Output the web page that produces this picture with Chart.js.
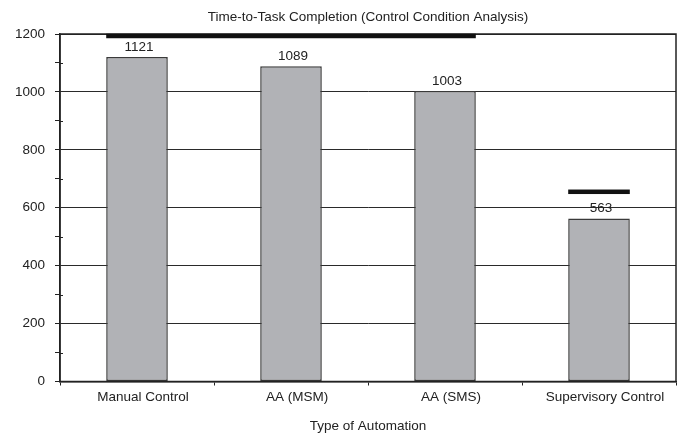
<!DOCTYPE html>
<html>
<head>
<meta charset="utf-8">
<script src="https://cdn.jsdelivr.net/npm/chart.js@4.4.1/dist/chart.umd.min.js"></script>
<style>
  html, body { margin: 0; padding: 0; background: #fff; }
  #wrap { width: 682px; height: 433px; }
</style>
</head>
<body>
<div id="wrap"><canvas id="chart"></canvas></div>
<script>
// Data
const categories = ['Manual Control', 'AA (MSM)', 'AA (SMS)', 'Supervisory Control'];
const completionTimes = [1121, 1089, 1003, 563];

// Homogeneous-subset bars drawn above the columns (category index range + level)
const groupStart = [0, 3];
const groupEnd = [2, 3];
const groupLevel = [1194, 656];

const chartTitle = 'Time-to-Task Completion (Control Condition Analysis)';
const xTitle = 'Type of Automation';

const FONT = "'Liberation Sans', Arial, sans-serif";
const INK = '#222';

// Draws the box frame, the value labels, the group bars and the title
const overlayPlugin = {
    id: 'overlay',
    afterDatasetsDraw(chart) {
        const { ctx, chartArea: a, scales } = chart;
        const bars = chart.getDatasetMeta(0).data;
        ctx.save();

        // frame around plot
        ctx.strokeStyle = INK;
        ctx.lineWidth = 1.5;
        ctx.strokeRect(a.left, a.top, a.right - a.left, a.bottom - a.top);

        // minor y ticks also poke into the plot
        ctx.lineWidth = 1;
        scales.y.ticks.forEach((t) => {
            if (t.value % 200 !== 0) {
                const y = Math.round(scales.y.getPixelForValue(t.value)) + 0.5;
                ctx.beginPath();
                ctx.moveTo(a.left, y);
                ctx.lineTo(a.left + 3, y);
                ctx.stroke();
            }
        });

        // value labels
        ctx.fillStyle = INK;
        ctx.font = '13.5px ' + FONT;
        ctx.textAlign = 'center';
        ctx.textBaseline = 'alphabetic';
        bars.forEach((b, i) => {
            ctx.fillText(String(completionTimes[i]), b.x + 2, b.y - 6);
        });

        // group bars
        ctx.fillStyle = '#111';
        groupStart.forEach((s, i) => {
            const first = bars[s];
            const last = bars[groupEnd[i]];
            const x0 = first.x - first.width / 2;
            const x1 = last.x + last.width / 2;
            const y = scales.y.getPixelForValue(groupLevel[i]);
            ctx.fillRect(x0, y - 2, x1 - x0, 4.5);
        });

        // title centred over plot area
        ctx.fillStyle = INK;
        ctx.font = '13.5px ' + FONT;
        ctx.textBaseline = 'middle';
        ctx.fillText(chartTitle, (a.left + a.right) / 2, 17);
        ctx.restore();
    }
};

new Chart(document.getElementById('chart'), {
    type: 'bar',
    data: {
        labels: categories,
        datasets: [{
            data: completionTimes,
            backgroundColor: '#b1b2b6',
            borderColor: '#3a3a3a',
            borderWidth: 1.5,
            borderSkipped: false,
            categoryPercentage: 1,
            barPercentage: 0.4
        }]
    },
    options: {
        responsive: true,
        maintainAspectRatio: false,
        animation: false,
        layout: { padding: { top: 34, right: 6, left: 0, bottom: 0 } },
        plugins: {
            legend: { display: false },
            tooltip: { enabled: false },
            title: { display: false }
        },
        scales: {
            x: {
                grid: { drawOnChartArea: false, tickLength: 4, color: INK, offset: true },
                border: { color: INK, width: 1.5 },
                ticks: {
                    color: INK,
                    font: { family: FONT, size: 13.5 },
                    padding: 4,
                    maxRotation: 0,
                    labelOffset: 6
                },
                title: {
                    display: true,
                    text: xTitle,
                    color: INK,
                    font: { family: FONT, size: 13.5, lineHeight: 1 },
                    padding: { top: 0, bottom: 0 }
                },
                afterFit(scale) { scale.height = 433 - 381.5; }
            },
            y: {
                min: 0,
                max: 1200,
                ticks: {
                    stepSize: 100,
                    color: INK,
                    font: { family: FONT, size: 13.5 },
                    padding: 10,
                    callback: (v) => (v % 200 === 0 ? v : '')
                },
                grid: {
                    tickLength: 5,
                    lineWidth: 1,
                    color: (c) => (c.tick && c.tick.value % 200 === 0 ? '#2a2a2a' : 'rgba(0,0,0,0)'),
                    tickColor: INK
                },
                border: { color: INK, width: 1.5 },
                afterFit(scale) { scale.width = 60; }
            }
        }
    },
    plugins: [overlayPlugin]
});
</script>
</body>
</html>
